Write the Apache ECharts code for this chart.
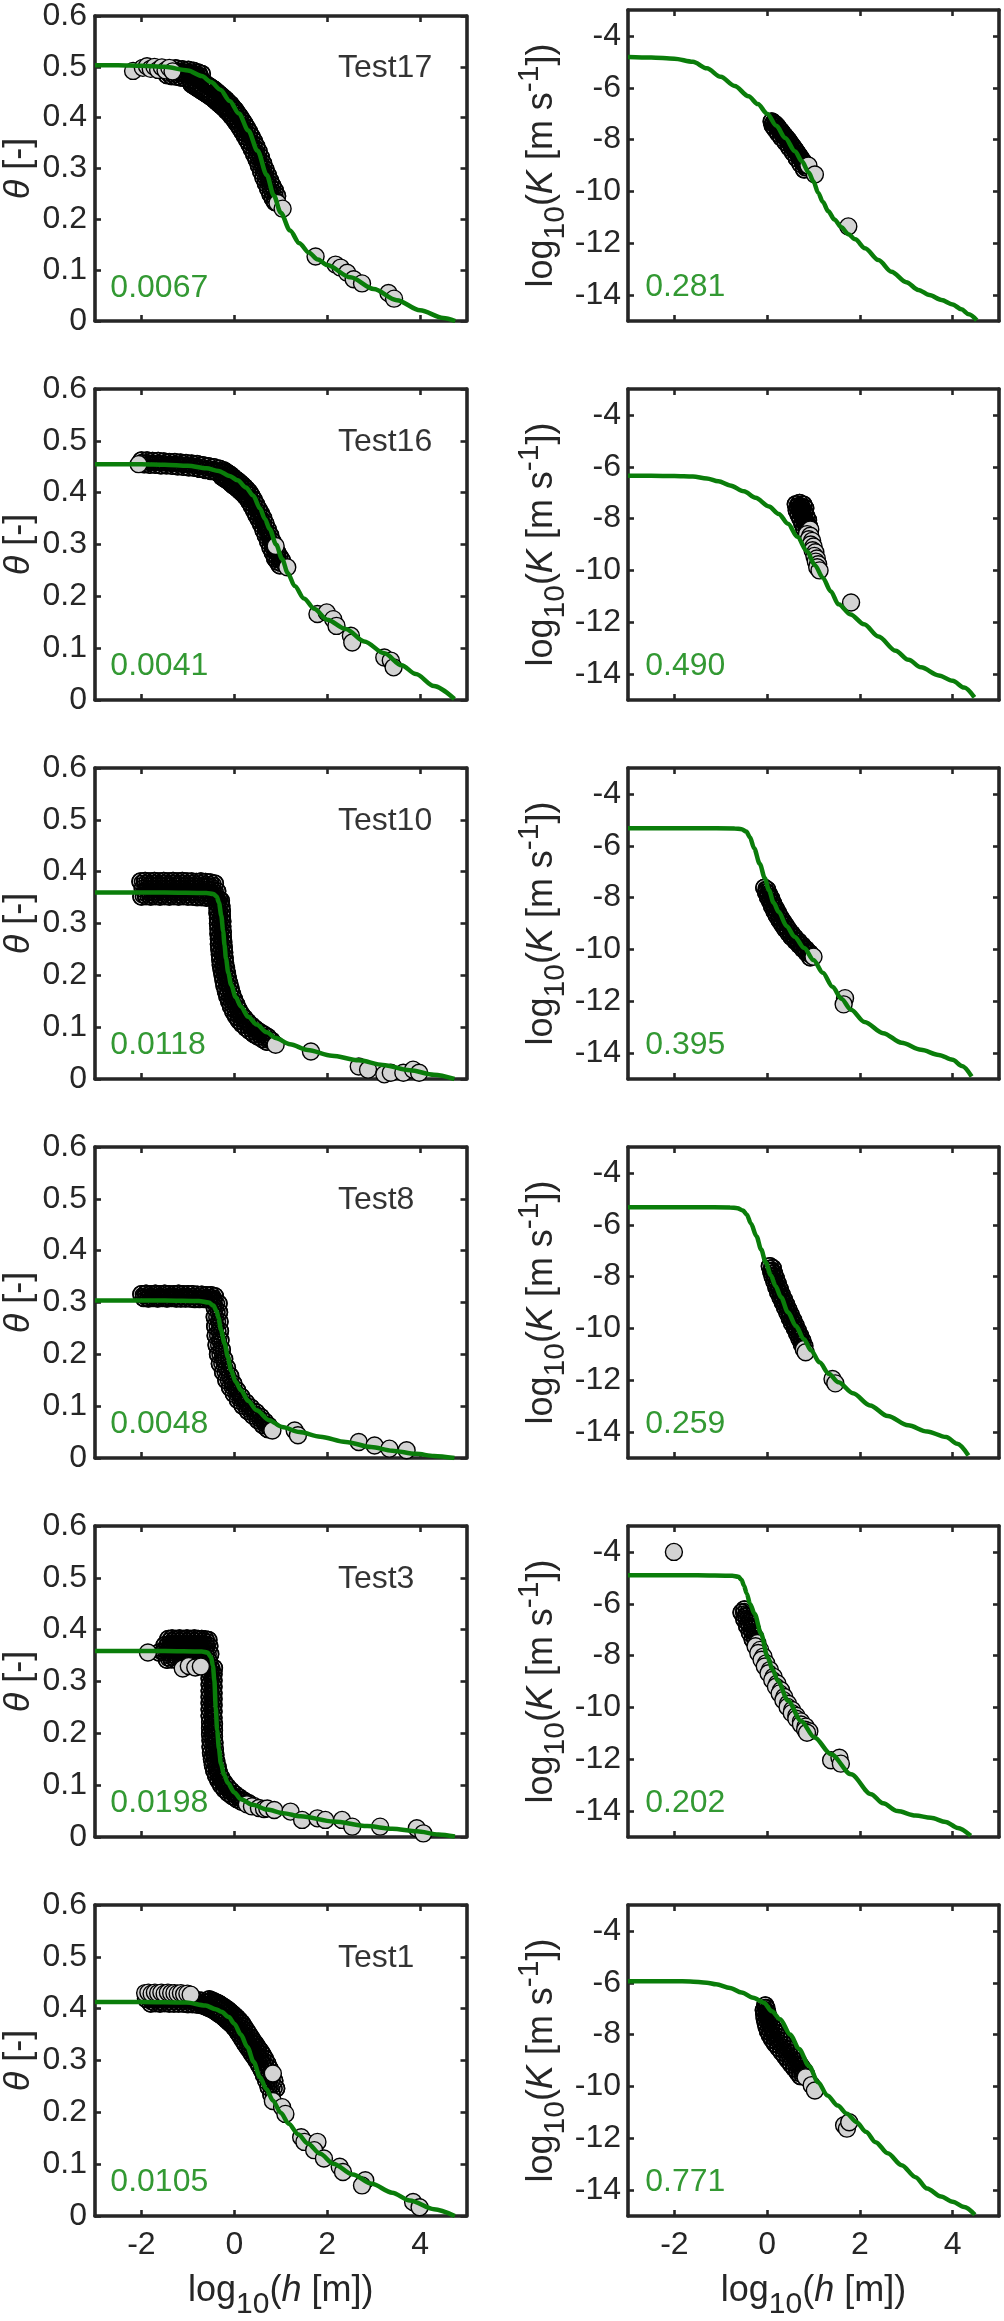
<!DOCTYPE html>
<html><head><meta charset="utf-8">
<script src="https://cdn.jsdelivr.net/npm/echarts@6/dist/echarts.min.js"></script>
<style>html,body{margin:0;padding:0;background:#fff}#c{width:1004px;height:2321px}</style>
</head><body><div id="c"></div>
<script>
const xTicks = [-2, 0, 2, 4];
const kTicks = [-14, -12, -10, -8, -6, -4];
const testNames = ['Test17', 'Test16', 'Test10', 'Test8', 'Test3', 'Test1'];
const thetaRmse = ['0.0067', '0.0041', '0.0118', '0.0048', '0.0198', '0.0105'];
const kRmse = ['0.281', '0.490', '0.395', '0.259', '0.202', '0.771'];

// ---------- Test17 ----------
const t17ThetaBand = [
[-1.45,0.484],[-1.35,0.482],[-1.25,0.481],[-1.15,0.479],[-1.05,0.478],[-0.95,0.476],
[-1.26,0.497],[-1.19,0.490],[-1.12,0.495],[-1.05,0.488],[-0.99,0.494],[-0.93,0.486],[-0.88,0.492],[-0.83,0.483],[-0.78,0.489],[-0.74,0.480],[-0.70,0.486],
[-0.88,0.482],[-0.92,0.466],[-0.83,0.479],[-0.87,0.463],[-0.78,0.476],[-0.82,0.460],[-0.73,0.473],[-0.77,0.457],[-0.68,0.470],[-0.72,0.454],[-0.63,0.467],[-0.67,0.451],[-0.58,0.464],[-0.62,0.448],[-0.53,0.461],[-0.57,0.445],[-0.48,0.458],[-0.52,0.442],[-0.43,0.455],[-0.47,0.439],[-0.38,0.451],[-0.42,0.435],[-0.33,0.447],[-0.37,0.431],[-0.28,0.443],[-0.32,0.427],[-0.23,0.439],[-0.27,0.423],[-0.18,0.435],[-0.22,0.419],[-0.13,0.430],[-0.17,0.414],[-0.08,0.426],[-0.12,0.410],[-0.03,0.420],[-0.07,0.404],[0.02,0.415],[-0.02,0.399],[0.07,0.408],[0.03,0.392],[0.12,0.402],[0.08,0.386],[0.17,0.395],[0.13,0.379],[0.22,0.388],[0.18,0.372],[0.27,0.380],[0.23,0.364],[0.32,0.372],[0.28,0.356],[0.37,0.363],[0.33,0.347],[0.42,0.354],[0.38,0.338],[0.47,0.344],[0.43,0.328],[0.52,0.334],[0.48,0.318],[0.57,0.322],[0.53,0.306],[0.62,0.310],[0.58,0.294],[0.67,0.298],[0.63,0.282],[0.72,0.287],[0.68,0.271],[0.77,0.276],[0.73,0.260],[0.82,0.266],[0.78,0.250],[0.87,0.257],[0.83,0.241],[0.92,0.246],[0.88,0.234]];
const t17ThetaPts = [
[-2.18,0.492],[-1.97,0.498],[-1.88,0.501],[-1.80,0.496],[-1.72,0.500],[-1.64,0.494],[-1.56,0.499],[-1.48,0.493],[-1.40,0.498],[-1.33,0.491],
[0.93,0.232],[1.04,0.221],
[1.75,0.127],[2.18,0.111],[2.29,0.105],[2.43,0.095],[2.57,0.082],[2.75,0.074],[3.32,0.055],[3.44,0.044]];
const t17ThetaFit = [[-3,0.503],[-2.5,0.503],[-2,0.502],[-1.5,0.500],[-1.0,0.493],[-0.7,0.482],[-0.5,0.470],[-0.3,0.455],[-0.1,0.433],[0.1,0.408],[0.3,0.375],[0.5,0.335],[0.7,0.287],[0.85,0.247],[1.0,0.213],[1.2,0.178],[1.4,0.153],[1.6,0.135],[1.8,0.121],[2.0,0.110],[2.5,0.086],[3.0,0.063],[3.5,0.041],[4.0,0.021],[4.5,0.006],[4.76,0.0]];
const t17KBand = [
[0.10,-7.30],[0.14,-7.36],[0.12,-7.45],[0.18,-7.42],[0.22,-7.50],[0.17,-7.58],[0.26,-7.60],[0.30,-7.68],[0.24,-7.75],[0.34,-7.78],[0.38,-7.86],[0.31,-7.92],[0.42,-7.95],[0.46,-8.04],[0.40,-8.10],[0.50,-8.14],[0.54,-8.24],[0.48,-8.30],[0.58,-8.34],[0.62,-8.44],[0.56,-8.50],[0.66,-8.55],[0.70,-8.65],[0.64,-8.72],[0.74,-8.76],[0.78,-8.86],[0.72,-8.93],[0.82,-8.98],[0.86,-9.08],[0.80,-9.15]];
const t17KPts = [[0.89,-9.00],[1.03,-9.35],[1.75,-11.35]];
const t17KFit = [[-3,-4.81],[-2.5,-4.83],[-2,-4.88],[-1.6,-5.0],[-1.3,-5.25],[-1.0,-5.58],[-0.7,-5.93],[-0.4,-6.33],[-0.2,-6.63],[0,-7.0],[0.2,-7.47],[0.39,-7.94],[0.6,-8.45],[0.75,-8.84],[0.9,-9.28],[1.0,-9.62],[1.1,-10.05],[1.2,-10.4],[1.32,-10.77],[1.45,-11.08],[1.6,-11.38],[1.75,-11.65],[1.9,-11.85],[2.11,-12.19],[2.4,-12.65],[2.68,-13.1],[3.0,-13.5],[3.26,-13.8],[3.5,-14.0],[3.76,-14.19],[4.0,-14.36],[4.19,-14.55],[4.35,-14.74],[4.52,-14.97]];

// ---------- Test16 ----------
const t16ThetaBand = [
[-2.00,0.462],[-1.94,0.455],[-1.88,0.462],[-1.82,0.454],[-1.76,0.461],[-1.70,0.454],[-1.64,0.461],[-1.58,0.453],[-1.52,0.460],[-1.46,0.453],[-1.40,0.459],[-1.34,0.452],[-1.28,0.459],[-1.22,0.451],[-1.16,0.458],[-1.10,0.450],[-1.04,0.457],[-0.98,0.449],[-0.92,0.456],[-0.86,0.448],[-0.80,0.455],[-0.74,0.446],[-0.68,0.453],[-0.62,0.444],[-0.56,0.451],[-0.50,0.442],[-0.44,0.449],[-0.38,0.440],[-0.32,0.446],
[-0.23,0.443],[-0.27,0.431],[-0.18,0.440],[-0.22,0.428],[-0.13,0.437],[-0.17,0.425],[-0.08,0.434],[-0.12,0.422],[-0.03,0.430],[-0.07,0.418],[0.02,0.426],[-0.02,0.414],[0.07,0.423],[0.03,0.411],[0.12,0.419],[0.08,0.407],[0.17,0.415],[0.13,0.403],[0.22,0.411],[0.18,0.399],[0.27,0.406],[0.23,0.394],[0.32,0.401],[0.28,0.389],[0.37,0.394],[0.33,0.382],[0.42,0.386],[0.38,0.374],[0.47,0.377],[0.43,0.365],[0.52,0.368],[0.48,0.356],[0.57,0.360],[0.53,0.348],[0.62,0.351],[0.58,0.339],[0.67,0.340],[0.63,0.328],[0.72,0.329],[0.68,0.317],[0.77,0.318],[0.73,0.306],[0.82,0.306],[0.78,0.294],[0.87,0.296],[0.83,0.284],[0.92,0.285],[0.88,0.273],[0.97,0.277],[0.93,0.267],[1.02,0.270],[0.98,0.260]];
const t16ThetaPts = [
[-2.06,0.455],[0.89,0.297],[1.14,0.256],
[1.79,0.166],[1.99,0.169],[2.13,0.156],[2.20,0.143],[2.51,0.124],[2.54,0.111],[3.23,0.082],[3.37,0.076],[3.43,0.063]];
const t16ThetaFit = [[-3,0.455],[-2,0.455],[-1.5,0.454],[-1.0,0.452],[-0.6,0.447],[-0.34,0.442],[-0.1,0.432],[0.07,0.424],[0.25,0.410],[0.41,0.394],[0.55,0.370],[0.66,0.349],[0.76,0.330],[0.9,0.300],[1.03,0.272],[1.15,0.245],[1.3,0.220],[1.5,0.196],[1.72,0.176],[2.0,0.155],[2.4,0.137],[2.8,0.113],[3.23,0.090],[3.6,0.067],[3.91,0.050],[4.3,0.027],[4.74,0.002]];
const t16KBand = [
[0.62,-7.45],[0.70,-7.40],[0.78,-7.46],[0.66,-7.55],[0.74,-7.58],[0.82,-7.60],[0.64,-7.68],[0.72,-7.72],[0.80,-7.75],[0.68,-7.85],[0.76,-7.88],[0.84,-7.90],[0.72,-8.00],[0.80,-8.04],[0.88,-8.06],[0.76,-8.18],[0.84,-8.22],[0.90,-8.30],[0.80,-8.38],[0.88,-8.45]];
const t16KPts = [
[0.93,-8.42],[0.86,-8.60],[0.93,-8.66],[0.90,-8.80],[0.97,-8.86],[0.94,-9.00],[1.00,-9.08],[0.98,-9.22],[1.04,-9.30],[1.02,-9.44],[1.07,-9.54],[1.05,-9.66],[1.10,-9.76],[1.08,-9.88],[1.13,-10.00],
[1.81,-11.24]];
const t16KFit = [[-3,-6.35],[-2.5,-6.35],[-2,-6.36],[-1.6,-6.38],[-1.3,-6.45],[-1.05,-6.56],[-0.8,-6.72],[-0.5,-6.95],[-0.25,-7.2],[0.04,-7.53],[0.25,-7.82],[0.45,-8.2],[0.65,-8.7],[0.86,-9.26],[1.03,-9.8],[1.2,-10.28],[1.37,-10.8],[1.54,-11.31],[1.8,-11.7],[2.09,-12.08],[2.4,-12.55],[2.77,-13.1],[3.05,-13.45],[3.32,-13.74],[3.7,-14.05],[4.0,-14.26],[4.25,-14.52],[4.47,-14.9]];

// ---------- Test10 ----------
const t10ThetaBand = [
[-2.02,0.381],[-1.92,0.382],[-1.82,0.381],[-1.72,0.382],[-1.62,0.381],[-1.52,0.382],[-1.42,0.381],[-1.32,0.382],[-1.22,0.381],[-1.12,0.382],[-1.02,0.381],[-0.92,0.381],[-0.82,0.380],[-0.72,0.381],[-0.62,0.380],[-0.52,0.379],[-0.42,0.377],
[-1.97,0.367],[-1.87,0.366],[-1.77,0.367],[-1.67,0.366],[-1.57,0.367],[-1.47,0.366],[-1.37,0.367],[-1.27,0.366],[-1.17,0.367],[-1.07,0.366],[-0.97,0.367],[-0.87,0.366],[-0.77,0.366],[-0.67,0.365],[-0.57,0.365],[-0.47,0.364],[-0.37,0.362],
[-2.00,0.352],[-1.90,0.353],[-1.80,0.352],[-1.70,0.353],[-1.60,0.352],[-1.50,0.353],[-1.40,0.352],[-1.30,0.353],[-1.20,0.352],[-1.10,0.353],[-1.00,0.352],[-0.90,0.352],[-0.80,0.351],[-0.70,0.351],[-0.60,0.350],[-0.50,0.350],[-0.40,0.349],[-0.33,0.347],
[-0.29,0.344],[-0.37,0.340],[-0.28,0.334],[-0.36,0.330],[-0.27,0.324],[-0.36,0.320],[-0.27,0.314],[-0.35,0.310],[-0.26,0.304],[-0.35,0.300],[-0.26,0.294],[-0.34,0.290],[-0.25,0.284],[-0.34,0.280],[-0.25,0.274],[-0.33,0.270],[-0.24,0.264],[-0.33,0.260],[-0.23,0.254],[-0.32,0.250],[-0.22,0.244],[-0.31,0.240],[-0.21,0.234],[-0.30,0.230],[-0.20,0.224],[-0.29,0.220],[-0.18,0.214],[-0.27,0.210],[-0.16,0.204],[-0.25,0.200],[-0.14,0.194],[-0.23,0.190],[-0.11,0.184],[-0.21,0.180],[-0.08,0.174],[-0.18,0.170],[-0.05,0.164],[-0.15,0.160],[-0.01,0.154],[-0.11,0.150],[0.04,0.144],[-0.07,0.140],[0.09,0.134],[-0.02,0.130],[0.15,0.125],[0.04,0.121],[0.22,0.117],[0.10,0.113],[0.29,0.110],[0.17,0.106],[0.37,0.103],[0.25,0.099],[0.45,0.097],[0.33,0.093],[0.54,0.091],[0.42,0.087],[0.63,0.086],[0.51,0.082],[0.72,0.081],[0.61,0.077],[0.80,0.074],[0.70,0.072]];
const t10ThetaPts = [
[0.89,0.066],
[1.65,0.053],[2.68,0.024],[2.88,0.018],[3.23,0.009],[3.37,0.012],[3.64,0.012],[3.85,0.018],[3.98,0.012]];
const t10ThetaFit = [[-3,0.360],[-1.5,0.360],[-0.6,0.359],[-0.45,0.357],[-0.38,0.352],[-0.33,0.340],[-0.28,0.315],[-0.24,0.285],[-0.21,0.258],[-0.18,0.233],[-0.13,0.205],[-0.07,0.182],[0.03,0.158],[0.14,0.140],[0.3,0.120],[0.48,0.105],[0.7,0.090],[0.89,0.079],[1.2,0.067],[1.58,0.056],[2.1,0.045],[2.68,0.036],[3.2,0.027],[3.78,0.017],[4.3,0.008],[4.74,0.0]];
const t10KBand = [
[-0.06,-7.62],[0.00,-7.70],[-0.02,-7.80],[0.04,-7.88],[0.02,-7.98],[0.09,-8.05],[0.07,-8.16],[0.13,-8.23],[0.11,-8.34],[0.18,-8.41],[0.16,-8.52],[0.23,-8.58],[0.21,-8.70],[0.28,-8.75],[0.27,-8.87],[0.34,-8.92],[0.33,-9.04],[0.40,-9.08],[0.39,-9.20],[0.46,-9.24],[0.46,-9.36],[0.53,-9.40],[0.53,-9.52],[0.60,-9.55],[0.61,-9.67],[0.68,-9.70],[0.69,-9.82],[0.76,-9.85],[0.77,-9.97],[0.84,-10.00],[0.85,-10.12],[0.92,-10.15],[0.93,-10.30]];
const t10KPts = [[1.00,-10.28],[1.68,-11.88],[1.65,-12.12]];
const t10KFit = [[-3,-5.32],[-1.5,-5.32],[-0.7,-5.33],[-0.55,-5.36],[-0.45,-5.45],[-0.37,-5.67],[-0.28,-6.1],[-0.16,-6.69],[-0.05,-7.25],[0.04,-7.72],[0.14,-8.2],[0.25,-8.55],[0.42,-9.1],[0.59,-9.51],[0.8,-9.95],[1.0,-10.41],[1.2,-10.9],[1.41,-11.44],[1.6,-11.9],[1.81,-12.33],[2.1,-12.8],[2.5,-13.23],[2.9,-13.6],[3.32,-13.87],[3.7,-14.07],[4.0,-14.26],[4.2,-14.5],[4.41,-14.9]];

// ---------- Test8 ----------
const t8ThetaBand = [
[-2.00,0.316],[-1.90,0.317],[-1.80,0.316],[-1.70,0.317],[-1.60,0.316],[-1.50,0.317],[-1.40,0.316],[-1.30,0.316],[-1.20,0.317],[-1.10,0.316],[-1.00,0.316],[-0.90,0.316],[-0.80,0.315],[-0.70,0.315],[-0.60,0.314],[-0.50,0.314],[-0.42,0.312],
[-1.95,0.309],[-1.85,0.308],[-1.75,0.309],[-1.65,0.308],[-1.55,0.309],[-1.45,0.308],[-1.35,0.309],[-1.25,0.308],[-1.15,0.308],[-1.05,0.308],[-0.95,0.308],[-0.85,0.307],[-0.75,0.307],[-0.65,0.307],[-0.55,0.306],[-0.45,0.305],
[-0.34,0.298],[-0.42,0.290],[-0.33,0.281],[-0.42,0.272],[-0.32,0.263],[-0.41,0.254],[-0.31,0.245],[-0.40,0.236],[-0.30,0.227],[-0.38,0.218],[-0.27,0.209],[-0.35,0.200],[-0.22,0.191],[-0.31,0.182],[-0.16,0.174],[-0.24,0.166],[-0.09,0.158],[-0.17,0.150],[-0.02,0.143],[-0.09,0.136],[0.06,0.130],[-0.01,0.124],[0.15,0.118],[0.08,0.112],[0.25,0.107],[0.18,0.101],[0.36,0.097],[0.29,0.091],[0.47,0.088],[0.40,0.082],[0.57,0.079],[0.51,0.073],[0.66,0.070],[0.61,0.064],[0.74,0.062],[0.72,0.056]];
const t8ThetaPts = [
[0.82,0.053],
[1.30,0.053],[1.37,0.044],[2.68,0.031],[3.02,0.024],[3.34,0.018],[3.71,0.015]];
const t8ThetaFit = [[-3,0.304],[-1.5,0.304],[-0.76,0.303],[-0.55,0.300],[-0.45,0.294],[-0.38,0.283],[-0.34,0.270],[-0.29,0.248],[-0.21,0.221],[-0.14,0.195],[-0.07,0.169],[0.03,0.147],[0.14,0.131],[0.3,0.110],[0.48,0.092],[0.75,0.073],[1.03,0.060],[1.4,0.050],[1.85,0.041],[2.4,0.031],[2.95,0.021],[3.4,0.014],[3.91,0.008],[4.3,0.004],[4.74,0.0]];
const t8KBand = [
[0.06,-7.60],[0.12,-7.68],[0.09,-7.80],[0.15,-7.88],[0.12,-8.00],[0.19,-8.08],[0.16,-8.20],[0.23,-8.28],[0.20,-8.40],[0.27,-8.48],[0.24,-8.60],[0.31,-8.68],[0.29,-8.80],[0.36,-8.88],[0.34,-9.00],[0.41,-9.08],[0.39,-9.20],[0.46,-9.28],[0.44,-9.40],[0.51,-9.48],[0.49,-9.60],[0.56,-9.68],[0.54,-9.80],[0.61,-9.88],[0.60,-10.00],[0.66,-10.08],[0.65,-10.20],[0.71,-10.28],[0.70,-10.40],[0.76,-10.48],[0.75,-10.60],[0.80,-10.68]];
const t8KPts = [[0.79,-10.80],[0.83,-10.92],[1.41,-11.95],[1.47,-12.12]];
const t8KFit = [[-3,-5.32],[-1.5,-5.32],[-0.8,-5.33],[-0.64,-5.36],[-0.52,-5.45],[-0.44,-5.6],[-0.35,-5.95],[-0.23,-6.44],[-0.13,-6.95],[-0.03,-7.46],[0.08,-7.95],[0.18,-8.36],[0.3,-8.8],[0.45,-9.38],[0.62,-9.9],[0.79,-10.41],[0.95,-10.85],[1.13,-11.31],[1.33,-11.75],[1.54,-12.08],[1.85,-12.5],[2.22,-12.97],[2.6,-13.38],[3.04,-13.74],[3.45,-13.98],[3.86,-14.19],[4.1,-14.45],[4.34,-14.9]];

// ---------- Test3 ----------
const t3ThetaBand = [
[-1.42,0.382],[-1.34,0.383],[-1.26,0.382],[-1.18,0.383],[-1.10,0.382],[-1.02,0.383],[-0.94,0.382],[-0.86,0.383],[-0.78,0.382],[-0.70,0.382],[-0.62,0.381],[-0.56,0.380],
[-1.50,0.370],[-1.42,0.371],[-1.34,0.370],[-1.26,0.371],[-1.18,0.370],[-1.10,0.371],[-1.02,0.370],[-0.94,0.371],[-0.86,0.370],[-0.78,0.370],[-0.70,0.369],[-0.62,0.369],[-0.54,0.368],
[-1.62,0.356],[-1.52,0.357],[-1.42,0.356],[-1.32,0.357],[-1.22,0.356],[-1.12,0.357],[-1.02,0.356],[-0.92,0.356],[-0.82,0.355],[-0.72,0.355],[-0.62,0.354],[-0.52,0.353],
[-1.45,0.342],[-1.35,0.343],[-1.25,0.342],[-1.15,0.343],[-1.05,0.342],[-0.95,0.342],[-0.85,0.341],[-0.75,0.341],[-0.65,0.340],[-0.55,0.339],
[-0.52,0.330],[-0.44,0.326],[-0.53,0.318],[-0.45,0.314],[-0.53,0.306],[-0.45,0.302],[-0.53,0.294],[-0.45,0.290],[-0.53,0.282],[-0.45,0.278],[-0.53,0.270],[-0.45,0.266],[-0.53,0.258],[-0.45,0.254],[-0.53,0.246],[-0.45,0.242],[-0.53,0.234],[-0.45,0.230],[-0.52,0.222],[-0.44,0.218],[-0.52,0.210],[-0.44,0.206],[-0.52,0.198],[-0.44,0.194],[-0.51,0.186],[-0.43,0.182],[-0.51,0.174],[-0.42,0.170],[-0.50,0.162],[-0.41,0.158],[-0.48,0.150],[-0.39,0.146],[-0.46,0.139],[-0.36,0.135],[-0.43,0.128],[-0.33,0.124],[-0.39,0.118],[-0.28,0.114],[-0.34,0.109],[-0.22,0.105],[-0.28,0.100],[-0.15,0.097],[-0.21,0.092],[-0.07,0.089],[-0.13,0.085],[0.02,0.082],[-0.04,0.079],[0.11,0.076],[0.06,0.073],[0.21,0.070],[0.16,0.068],[0.31,0.065]];
const t3ThetaPts = [
[-1.86,0.356],
[-1.11,0.325],[-0.98,0.330],[-0.84,0.327],[-0.72,0.329],
[0.27,0.063],[0.42,0.060],[0.38,0.059],[0.53,0.056],[0.64,0.054],
[0.71,0.055],[0.86,0.052],[1.21,0.049],[1.46,0.033],[1.79,0.036],[1.96,0.033],[2.32,0.033],[2.54,0.020],[3.14,0.020],[3.93,0.017],[4.07,0.007]];
const t3ThetaFit = [[-3,0.359],[-1.5,0.359],[-0.7,0.358],[-0.58,0.356],[-0.5,0.347],[-0.46,0.330],[-0.43,0.302],[-0.4,0.250],[-0.37,0.206],[-0.33,0.170],[-0.29,0.142],[-0.22,0.120],[-0.14,0.104],[0.0,0.086],[0.14,0.073],[0.4,0.062],[0.71,0.053],[1.05,0.046],[1.43,0.040],[2.14,0.030],[2.86,0.021],[3.4,0.016],[3.93,0.011],[4.4,0.005],[4.75,0.001]];
const t3KBand = [
[-0.49,-6.22],[-0.55,-6.34],[-0.45,-6.48],[-0.49,-6.60],[-0.39,-6.74],[-0.43,-6.86],[-0.33,-7.00],[-0.37,-7.12],[-0.27,-7.26],[-0.31,-7.38]];
const t3KPts = [
[-2.01,-4.0],
[-0.21,-7.52],[-0.25,-7.64],[-0.15,-7.78],[-0.19,-7.90],[-0.08,-8.04],[-0.12,-8.16],[-0.02,-8.30],[-0.05,-8.42],[0.06,-8.56],[0.03,-8.68],[0.14,-8.82],[0.11,-8.94],[0.22,-9.08],[0.19,-9.20],[0.30,-9.34],[0.27,-9.46],[0.37,-9.60],[0.35,-9.72],[0.45,-9.86],[0.44,-9.98],[0.54,-10.10],[0.53,-10.22],[0.63,-10.32],[0.63,-10.44],[0.73,-10.54],[0.73,-10.66],[0.83,-10.74],[0.82,-10.86],[0.91,-10.92],[0.86,-10.98],
[1.38,-12.04],[1.56,-11.94],[1.59,-12.17]];
const t3KFit = [[-3,-4.9],[-1.5,-4.9],[-0.75,-4.92],[-0.62,-4.96],[-0.55,-5.08],[-0.5,-5.3],[-0.44,-5.6],[-0.37,-6.0],[-0.27,-6.39],[-0.13,-7.16],[0.01,-8.06],[0.12,-8.55],[0.23,-8.97],[0.45,-9.74],[0.73,-10.52],[1.02,-11.16],[1.38,-11.81],[1.81,-12.58],[2.24,-13.35],[2.5,-13.7],[2.81,-14.0],[3.2,-14.17],[3.53,-14.26],[3.85,-14.42],[4.11,-14.65],[4.39,-14.95]];

// ---------- Test1 ----------
const t1ThetaBand = [
[-1.80,0.410],[-1.70,0.411],[-1.60,0.410],[-1.50,0.411],[-1.40,0.410],[-1.30,0.410],[-1.20,0.410],[-1.10,0.410],[-1.00,0.409],[-0.90,0.409],[-0.80,0.408],[-0.70,0.407],[-0.60,0.406],
[-1.90,0.419],[-1.82,0.420],[-1.74,0.419],[-1.66,0.420],[-1.58,0.419],[-1.50,0.420],[-1.42,0.419],[-1.34,0.420],[-1.26,0.419],[-1.18,0.419],[-1.10,0.419],[-1.02,0.418],[-0.94,0.418],[-0.86,0.417],[-0.78,0.416],[-0.70,0.415],
[-0.54,0.418],[-0.66,0.406],[-0.49,0.416],[-0.61,0.404],[-0.44,0.414],[-0.56,0.402],[-0.39,0.412],[-0.51,0.400],[-0.34,0.410],[-0.46,0.398],[-0.29,0.407],[-0.41,0.395],[-0.24,0.404],[-0.36,0.392],[-0.19,0.401],[-0.31,0.389],[-0.14,0.398],[-0.26,0.386],[-0.09,0.394],[-0.21,0.382],[-0.04,0.390],[-0.16,0.378],[0.01,0.386],[-0.11,0.374],[0.06,0.382],[-0.06,0.370],[0.11,0.377],[-0.01,0.365],[0.16,0.372],[0.04,0.360],[0.21,0.365],[0.09,0.353],[0.26,0.358],[0.14,0.346],[0.31,0.351],[0.19,0.339],[0.36,0.344],[0.24,0.332],[0.41,0.337],[0.29,0.325],[0.46,0.331],[0.34,0.319],[0.51,0.324],[0.39,0.312],[0.56,0.318],[0.44,0.306],[0.61,0.311],[0.49,0.299],[0.66,0.303],[0.54,0.291],[0.71,0.294],[0.59,0.282],[0.76,0.284],[0.64,0.272],[0.81,0.273],[0.69,0.261],[0.86,0.261],[0.74,0.249],[0.90,0.246],[0.80,0.234]];
const t1ThetaPts = [
[-1.92,0.430],[-1.85,0.431],[-1.78,0.429],[-1.71,0.431],[-1.64,0.430],[-1.57,0.431],[-1.50,0.429],[-1.43,0.431],[-1.36,0.430],[-1.29,0.430],[-1.22,0.429],[-1.15,0.430],[-1.08,0.428],[-1.01,0.429],[-0.94,0.427],
[0.83,0.275],[0.83,0.222],[1.03,0.210],[1.10,0.197],
[1.44,0.152],[1.51,0.143],[1.79,0.143],[1.72,0.127],[1.93,0.111],[2.27,0.095],[2.34,0.085],[2.82,0.069],[2.75,0.059],[3.85,0.027],[3.99,0.017]];
const t1ThetaFit = [[-3,0.413],[-2,0.413],[-1.03,0.412],[-0.62,0.406],[-0.4,0.399],[-0.28,0.394],[-0.12,0.384],[0.0,0.371],[0.14,0.350],[0.28,0.326],[0.42,0.297],[0.55,0.268],[0.69,0.245],[0.83,0.223],[1.0,0.199],[1.17,0.178],[1.38,0.157],[1.58,0.140],[1.85,0.120],[2.13,0.101],[2.55,0.080],[2.96,0.062],[3.4,0.045],[3.78,0.030],[4.3,0.013],[4.75,0.0]];
const t1KBand = [
[-0.04,-6.88],[-0.02,-6.98],[-0.07,-7.06],[0.00,-7.14],[-0.06,-7.22],[0.02,-7.30],[-0.05,-7.38],[0.05,-7.46],[-0.03,-7.54],[0.09,-7.62],[-0.01,-7.70],[0.14,-7.78],[0.02,-7.86],[0.19,-7.94],[0.06,-8.02],[0.25,-8.10],[0.11,-8.18],[0.32,-8.26],[0.17,-8.34],[0.39,-8.42],[0.24,-8.50],[0.46,-8.58],[0.31,-8.66],[0.53,-8.74],[0.38,-8.82],[0.60,-8.90],[0.45,-8.98],[0.67,-9.06],[0.52,-9.14],[0.73,-9.22],[0.59,-9.30],[0.79,-9.38],[0.66,-9.46],[0.84,-9.54],[0.72,-9.60]];
const t1KPts = [[0.83,-9.65],[0.96,-9.95],[1.03,-10.16],[1.66,-11.50],[1.72,-11.63],[1.77,-11.38]];
const t1KFit = [[-3,-5.94],[-2,-5.94],[-1.66,-5.95],[-1.3,-6.0],[-1.1,-6.06],[-0.8,-6.2],[-0.55,-6.38],[-0.3,-6.58],[-0.07,-6.77],[0.1,-7.1],[0.28,-7.41],[0.5,-8.0],[0.69,-8.56],[0.9,-9.2],[1.1,-9.84],[1.3,-10.35],[1.52,-10.74],[1.72,-11.05],[1.93,-11.38],[2.13,-11.75],[2.34,-12.15],[2.6,-12.58],[2.9,-13.04],[3.2,-13.5],[3.45,-13.94],[3.75,-14.25],[4.0,-14.45],[4.25,-14.65],[4.48,-14.95]];

const panels = [
  {name: testNames[0], tBand: t17ThetaBand, tPts: t17ThetaPts, tFit: t17ThetaFit, kBand: t17KBand, kPts: t17KPts, kFit: t17KFit, tErr: thetaRmse[0], kErr: kRmse[0]},
  {name: testNames[1], tBand: t16ThetaBand, tPts: t16ThetaPts, tFit: t16ThetaFit, kBand: t16KBand, kPts: t16KPts, kFit: t16KFit, tErr: thetaRmse[1], kErr: kRmse[1]},
  {name: testNames[2], tBand: t10ThetaBand, tPts: t10ThetaPts, tFit: t10ThetaFit, kBand: t10KBand, kPts: t10KPts, kFit: t10KFit, tErr: thetaRmse[2], kErr: kRmse[2]},
  {name: testNames[3], tBand: t8ThetaBand, tPts: t8ThetaPts, tFit: t8ThetaFit, kBand: t8KBand, kPts: t8KPts, kFit: t8KFit, tErr: thetaRmse[3], kErr: kRmse[3]},
  {name: testNames[4], tBand: t3ThetaBand, tPts: t3ThetaPts, tFit: t3ThetaFit, kBand: t3KBand, kPts: t3KPts, kFit: t3KFit, tErr: thetaRmse[4], kErr: kRmse[4]},
  {name: testNames[5], tBand: t1ThetaBand, tPts: t1ThetaPts, tFit: t1ThetaFit, kBand: t1KBand, kPts: t1KPts, kFit: t1KFit, tErr: thetaRmse[5], kErr: kRmse[5]}
];

const FONT = '"Liberation Sans", Arial, Helvetica, sans-serif';
const AX = '#262626';
const GREEN = '#0a7d0a';
const TICK_FS = 32;
const nameStyle = {fontSize: 36, color: AX, fontFamily: FONT, rich: {
  n: {fontSize: 36, color: AX, fontFamily: FONT},
  i: {fontSize: 36, color: AX, fontFamily: FONT, fontStyle: 'italic'},
  s: {fontSize: 30, color: AX, fontFamily: FONT, padding: [28, 0, 0, 0]},
  p: {fontSize: 30, color: AX, fontFamily: FONT, padding: [0, 0, 24, 0]}
}};
const axLine = {show: true, onZero: false, lineStyle: {color: AX, width: 3.6}};
const tickLine = {color: AX, width: 2.6};
const markerStyle = {color: '#d3d3d3', borderColor: '#000', borderWidth: 1.4, opacity: 1};
const strokeOnly = {color: 'rgba(0,0,0,0)', borderColor: '#000', borderWidth: 1.6, opacity: 1};

const grids = [], xAxes = [], yAxes = [], series = [];
function thetaFmt(v) { return Math.abs(v) < 1e-9 ? '0' : (Math.round(v * 10) / 10).toFixed(1); }

panels.forEach((p, i) => {
  const last = i === panels.length - 1;
  for (let col = 0; col < 2; col++) {
    const g = i * 2 + col;
    grids.push({left: col ? 628 : 93, top: 10 + i * 379, width: col ? 371 : 373.5, height: 311});
    const xc = {gridIndex: g, type: 'value', min: -3, max: 5, splitLine: {show: false}, axisLine: axLine,
      axisTick: {show: true, inside: true, length: 6, customValues: xTicks, lineStyle: tickLine}};
    xAxes.push(Object.assign({}, xc, {position: 'bottom',
      axisLabel: {show: last, customValues: xTicks, fontSize: TICK_FS, color: AX, fontFamily: FONT, margin: 13},
      name: last ? '{n|log}{s|10}{n|(}{i|h}{n| [m])}' : '', nameLocation: 'middle', nameGap: 46, nameTextStyle: nameStyle}));
    xAxes.push(Object.assign({}, xc, {position: 'top', axisLabel: {show: false}}));
    if (col === 0) {
      const yc = {gridIndex: g, type: 'value', min: 0, max: 0.6, interval: 0.1, splitLine: {show: false}, axisLine: axLine,
        axisTick: {show: true, inside: true, length: 6, lineStyle: tickLine}};
      yAxes.push(Object.assign({}, yc, {position: 'left',
        axisLabel: {show: true, formatter: thetaFmt, fontSize: TICK_FS, color: AX, fontFamily: FONT, margin: 8},
        name: '{i|θ} {n|[-]}', nameLocation: 'middle', nameRotate: 90, nameGap: 58, nameTextStyle: nameStyle}));
      yAxes.push(Object.assign({}, yc, {position: 'right', axisLabel: {show: false}}));
    } else {
      const yc = {gridIndex: g, type: 'value', min: -15, max: -3, splitLine: {show: false}, axisLine: axLine,
        axisTick: {show: true, inside: true, length: 6, customValues: kTicks, lineStyle: tickLine}};
      yAxes.push(Object.assign({}, yc, {position: 'left',
        axisLabel: {show: true, customValues: kTicks, fontSize: TICK_FS, color: AX, fontFamily: FONT, margin: 7},
        name: '{n|log}{s|10}{n|(}{i|K}{n| [m s}{p|-1}{n|])}', nameLocation: 'middle', nameRotate: 90, nameGap: 52, nameTextStyle: nameStyle}));
      yAxes.push(Object.assign({}, yc, {position: 'right', axisLabel: {show: false}}));
    }
    const band = col ? p.kBand : p.tBand;
    const pts = col ? p.kPts : p.tPts;
    const fit = col ? p.kFit : p.tFit;
    const ax = {xAxisIndex: 2 * g, yAxisIndex: 2 * g, silent: true};
    // dense band: filled markers, then outline passes that build up the dark mass of overlapping edges
    series.push(Object.assign({type: 'scatter', data: band, symbol: 'circle', symbolSize: 17, itemStyle: markerStyle, z: 2}, ax));
    series.push(Object.assign({type: 'scatter', data: band, symbol: 'circle', symbolSize: 17, itemStyle: strokeOnly, z: 2}, ax));
    series.push(Object.assign({type: 'scatter', data: band, symbol: 'circle', symbolSize: 12, itemStyle: strokeOnly, z: 2}, ax));
    series.push(Object.assign({type: 'scatter', data: band, symbol: 'circle', symbolSize: 7, itemStyle: strokeOnly, z: 2}, ax));
    series.push(Object.assign({type: 'scatter', data: pts, symbol: 'circle', symbolSize: 17, itemStyle: markerStyle, z: 2}, ax));
    series.push(Object.assign({type: 'line', data: fit, showSymbol: false, smooth: 0.3, smoothMonotone: 'x',
      lineStyle: {color: GREEN, width: 4.5}, z: 3}, ax));
    const errPos = col ? [-2.64, -13.7] : [-2.68, 0.065];
    series.push(Object.assign({type: 'scatter', data: [errPos], symbolSize: 1, itemStyle: {color: 'rgba(0,0,0,0)'}, z: 5,
      label: {show: true, position: 'right', distance: 0, formatter: col ? p.kErr : p.tErr, fontSize: TICK_FS, color: '#008000', fontFamily: FONT}}, ax));
    if (col === 0) {
      series.push(Object.assign({type: 'scatter', data: [[2.22, 0.497]], symbolSize: 1, itemStyle: {color: 'rgba(0,0,0,0)'}, z: 5,
        label: {show: true, position: 'right', distance: 0, formatter: p.name, fontSize: TICK_FS, color: '#000', fontFamily: FONT}}, ax));
    }
  }
});

const chart = echarts.init(document.getElementById('c'), null, {renderer: 'canvas', width: 1004, height: 2321});
chart.setOption({animation: false, backgroundColor: '#fff', grid: grids, xAxis: xAxes, yAxis: yAxes, series: series});
</script></body></html>
